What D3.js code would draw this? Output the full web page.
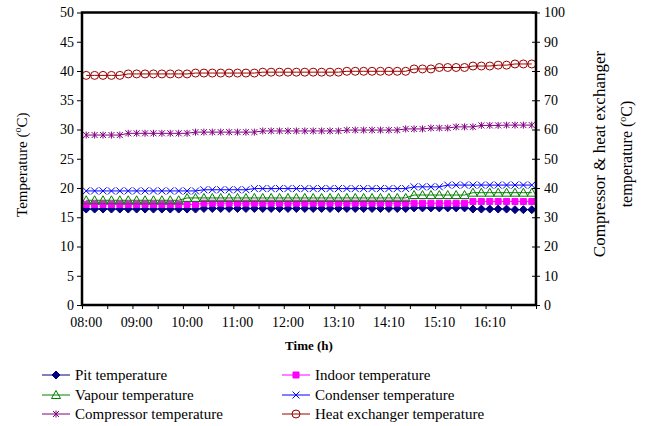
<!DOCTYPE html>
<html>
<head>
<meta charset="utf-8">
<script src="https://cdn.jsdelivr.net/npm/d3@7"></script>
<style>
  body { margin: 0; background: #fff; }
  svg text { font-family: "Times New Roman", "Liberation Serif", "DejaVu Serif", serif; }
</style>
</head>
<body>
<svg id="chart"></svg>
<script>
// times of each reading (10 min steps, 13:00 missing)
var times = [
  "08:00","08:10","08:20","08:30","08:40","08:50",
  "09:00","09:10","09:20","09:30","09:40","09:50",
  "10:00","10:10","10:20","10:30","10:40","10:50",
  "11:00","11:10","11:20","11:30","11:40","11:50",
  "12:00","12:10","12:20","12:30","12:40","12:50",
  "13:10","13:20","13:30","13:40","13:50","14:00",
  "14:10","14:20","14:30","14:40","14:50","15:00",
  "15:10","15:20","15:30","15:40","15:50","16:00",
  "16:10","16:20","16:30","16:40","16:50","17:00"
];
var timeLabels = ["08:00","09:00","10:00","11:00","12:00","13:10","14:10","15:10","16:10"];

// left axis series
var pit = [
  16.4,16.4,16.4,16.4,16.4,16.4, 16.4,16.4,16.4,16.4,16.4,16.4,
  16.4,16.4,16.5,16.5,16.5,16.5, 16.5,16.5,16.5,16.5,16.5,16.5,
  16.5,16.5,16.5,16.5,16.5,16.5, 16.5,16.5,16.5,16.5,16.5,16.5,
  16.5,16.5,16.5,16.6,16.6,16.6, 16.6,16.6,16.6,16.6,16.4,16.4,
  16.4,16.4,16.4,16.3,16.3,16.3
];
var indoor = [
  17.2,17.2,17.2,17.2,17.2,17.2, 17.2,17.2,17.2,17.2,17.2,17.2,
  17.2,17.2,17.4,17.4,17.4,17.4, 17.4,17.4,17.4,17.4,17.4,17.4,
  17.4,17.4,17.4,17.4,17.4,17.4, 17.4,17.4,17.4,17.4,17.4,17.4,
  17.4,17.4,17.4,17.4,17.4,17.4, 17.4,17.4,17.4,17.4,17.7,17.7,
  17.7,17.7,17.7,17.7,17.7,17.7
];
var vapour = [
  17.9,17.9,17.9,17.9,17.9,17.9, 17.9,17.9,17.9,17.9,17.9,17.9,
  18.3,18.3,18.3,18.3,18.3,18.3, 18.3,18.3,18.3,18.3,18.3,18.3,
  18.3,18.3,18.3,18.3,18.3,18.3, 18.3,18.3,18.3,18.3,18.3,18.3,
  18.3,18.3,18.3,18.8,18.8,18.8, 18.8,18.8,18.8,18.8,19.2,19.2,
  19.2,19.2,19.2,19.2,19.2,19.2
];
var condenser = [
  19.5,19.5,19.5,19.5,19.5,19.5, 19.5,19.5,19.5,19.5,19.5,19.5,
  19.5,19.5,19.7,19.7,19.7,19.7, 19.7,19.7,19.9,19.9,19.9,19.9,
  19.9,19.9,19.9,19.9,19.9,19.9, 19.9,19.9,19.9,19.9,19.9,19.9,
  19.9,19.9,19.9,20.2,20.2,20.2, 20.2,20.5,20.5,20.5,20.5,20.5,
  20.5,20.5,20.5,20.5,20.5,20.5
];
// right axis series
var compressor = [
  58.1,58.1,58.1,58.1,58.1,58.7, 58.7,58.7,58.7,58.7,58.7,58.7,
  58.7,59.1,59.1,59.1,59.1,59.1, 59.1,59.1,59.1,59.5,59.5,59.5,
  59.5,59.5,59.5,59.5,59.5,59.5, 59.5,59.8,59.8,59.8,59.8,59.8,
  59.8,59.8,60.2,60.2,60.2,60.5, 60.5,60.5,60.9,60.9,60.9,61.4,
  61.4,61.4,61.5,61.5,61.5,61.5
];
var heatExchanger = [
  78.5,78.5,78.5,78.5,78.5,79.0, 79.0,79.0,79.0,79.0,79.0,79.0,
  79.0,79.3,79.3,79.3,79.3,79.3, 79.3,79.3,79.3,79.6,79.6,79.6,
  79.6,79.6,79.6,79.6,79.6,79.6, 79.6,79.9,79.9,79.9,79.9,79.9,
  79.9,79.9,79.9,80.7,80.7,80.7, 81.2,81.2,81.2,81.2,81.7,81.7,
  81.7,82.0,82.0,82.4,82.4,82.4
];

var series = [
  {name: "Pit temperature", values: pit, axis: "L", color: "#000080", marker: "diamond"},
  {name: "Indoor temperature", values: indoor, axis: "L", color: "#FF00FF", marker: "square"},
  {name: "Vapour temperature", values: vapour, axis: "L", color: "#008000", marker: "triangle"},
  {name: "Condenser temperature", values: condenser, axis: "L", color: "#0000FF", marker: "x"},
  {name: "Compressor temperature", values: compressor, axis: "R", color: "#800080", marker: "star"},
  {name: "Heat exchanger temperature", values: heatExchanger, axis: "R", color: "#990000", marker: "circle"}
];

var serif = "'Times New Roman', 'Liberation Serif', 'DejaVu Serif', serif";
var width = 645, height = 426;
var margin = {top: 12.5, left: 82, bottom: 121, right: 109};
var plotW = width - margin.left - margin.right;
var plotH = height - margin.top - margin.bottom;

var svg = d3.select("#chart").attr("width", width).attr("height", height)
  .style("font-family", serif);
var g = svg.append("g").attr("transform", "translate(" + margin.left + "," + margin.top + ")");

var x = d3.scaleBand().domain(times).range([0, plotW]).paddingInner(0).paddingOuter(0);
var xIdx = d3.scaleLinear().domain([0, times.length]).range([0, plotW]);
var yL = d3.scaleLinear().domain([0, 50]).range([plotH, 0]);
var yR = d3.scaleLinear().domain([0, 100]).range([plotH, 0]);
var cx = function (t) { return x(t) + x.bandwidth() / 2; };

function markerPath(type) {
  switch (type) {
    case "diamond": return "M0,-4L4,0L0,4L-4,0Z";
    case "square": return "M-3,-3H3V3H-3Z";
    case "triangle": return "M0,-4.5L4.5,3.5H-4.5Z";
    case "x": return "M-3.5,-3.5L3.5,3.5M-3.5,3.5L3.5,-3.5";
    case "star": return "M-3,-3L3,3M-3,3L3,-3M0,-3.5V3.5";
    case "circle": return "M4,0A4,4 0 1,1 -4,0A4,4 0 1,1 4,0Z";
  }
}
function markerFill(s) {
  if (s.marker === "diamond" || s.marker === "square") return s.color;
  return "#fff";
}
function markerOpacity(s) {
  return (s.marker === "triangle" || s.marker === "circle") ? 0 : 1;
}
function styleText(a) {
  a.attr("font-family", serif);
  a.selectAll("text").attr("font-size", 14).attr("font-family", serif).attr("fill", "#000");
}

// axes
g.append("g")
  .attr("transform", "translate(0," + plotH + ")")
  .call(d3.axisBottom(xIdx).tickValues(d3.range(0, times.length + 1, 3)).tickSize(4).tickFormat(""))
  .call(function (a) { a.select(".domain").remove(); a.selectAll("line").attr("stroke", "#000"); });

g.append("g")
  .attr("transform", "translate(0," + plotH + ")")
  .call(d3.axisBottom(x).tickValues(timeLabels).tickSize(0).tickPadding(12))
  .call(function (a) { a.select(".domain").remove(); styleText(a); });

g.append("g")
  .call(d3.axisLeft(yL).tickValues(d3.range(0, 51, 5)).tickSize(5).tickPadding(3))
  .call(function (a) {
    a.select(".domain").remove();
    a.selectAll("line").attr("stroke", "#000");
    styleText(a);
  });

g.append("g")
  .attr("transform", "translate(" + plotW + ",0)")
  .call(d3.axisRight(yR).tickValues(d3.range(0, 101, 10)).tickSize(4).tickPadding(4))
  .call(function (a) {
    a.select(".domain").remove();
    a.selectAll("line").attr("x1", -4).attr("stroke", "#000");
    styleText(a);
  });

// lines and markers
series.forEach(function (s) {
  var y = s.axis === "L" ? yL : yR;
  var line = d3.line()
    .x(function (d, i) { return cx(times[i]); })
    .y(function (d) { return y(d); });
  g.append("path")
    .datum(s.values)
    .attr("fill", "none")
    .attr("stroke", s.color)
    .attr("stroke-width", 1)
    .attr("d", line);
  g.append("g").selectAll("path")
    .data(s.values)
    .join("path")
    .attr("transform", function (d, i) { return "translate(" + cx(times[i]) + "," + y(d) + ")"; })
    .attr("d", markerPath(s.marker))
    .attr("fill", markerFill(s))
    .attr("fill-opacity", markerOpacity(s))
    .attr("stroke", s.color)
    .attr("stroke-width", 1);
});

// frame
g.append("rect")
  .attr("width", plotW).attr("height", plotH)
  .attr("fill", "none").attr("stroke", "#000").attr("stroke-width", 2.5);

// axis titles
g.append("text")
  .attr("x", plotW / 2).attr("y", plotH + 45)
  .attr("text-anchor", "middle").attr("font-size", 13).attr("font-weight", "bold")
  .attr("font-family", serif)
  .text("Time (h)");

var lt = svg.append("text")
  .attr("transform", "translate(27," + (margin.top + plotH / 2 + 6) + ") rotate(-90)")
  .attr("text-anchor", "middle").attr("font-size", 15).attr("font-family", serif);
lt.append("tspan").text("Temperature (");
lt.append("tspan").attr("font-size", 10).attr("dy", -6).text("o");
lt.append("tspan").attr("dy", 6).text("C)");

var rt = svg.append("g")
  .attr("transform", "translate(605,154) rotate(-90)");
rt.append("text").attr("text-anchor", "middle").attr("font-size", 17).attr("font-family", serif)
  .text("Compressor & heat exchanger");
var rt2 = rt.append("text").attr("text-anchor", "middle").attr("font-size", 16)
  .attr("font-family", serif).attr("y", 27);
rt2.append("tspan").text("temperature (");
rt2.append("tspan").attr("font-size", 10).attr("dy", -6).text("o");
rt2.append("tspan").attr("dy", 6).text("C)");

// legend
var legend = svg.append("g");
var legX = [42, 282], legY = [375, 395, 414];
series.forEach(function (s, i) {
  var lx = legX[i % 2], ly = legY[Math.floor(i / 2)];
  var item = legend.append("g").attr("transform", "translate(" + lx + "," + ly + ")");
  item.append("line").attr("x1", 0).attr("x2", 28).attr("stroke", s.color).attr("stroke-width", 1);
  item.append("path").attr("transform", "translate(14,0)")
    .attr("d", markerPath(s.marker))
    .attr("fill", markerFill(s)).attr("fill-opacity", markerOpacity(s))
    .attr("stroke", s.color);
  item.append("text").attr("x", 33).attr("y", 5).attr("font-size", 15)
    .attr("font-family", serif).text(s.name);
});
</script>
</body>
</html>
